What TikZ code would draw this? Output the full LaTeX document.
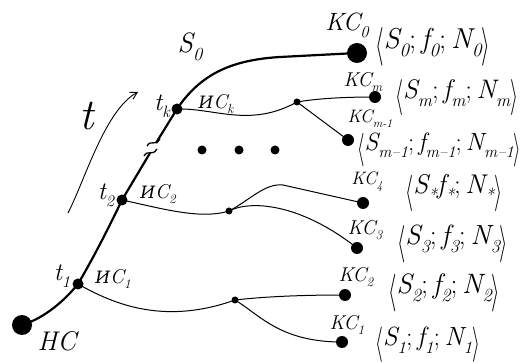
\documentclass[tikz,border=0pt]{standalone}
\usepackage{fontspec}
\usepackage{graphicx}
\newfontfamily\cyrfont{DejaVu Serif}
\usetikzlibrary{arrows.meta}
\tikzset{
  bigdot/.style={circle,fill=black,inner sep=0pt,minimum size=20pt},
  tdot/.style={circle,fill=black,inner sep=0pt,minimum size=11pt},
  jdot/.style={circle,fill=black,inner sep=0pt,minimum size=7pt},
  kdot/.style={circle,fill=black,inner sep=0pt,minimum size=12pt},
  mainline/.style={line width=2.2pt},
  brline/.style={line width=1pt},
  lbl/.style={inner sep=0pt,font=\fontsize{20}{22}\selectfont\itshape},
  klbl/.style={inner sep=0pt,font=\fontsize{20}{22}\selectfont\itshape},
  tup/.style={inner sep=0pt,anchor=west,font=\fontsize{26}{28}\selectfont},
}
\newcommand{\sub}[1]{\raisebox{-0.28em}{\scalebox{0.66}{#1}}}
\newcommand{\lbr}{\raisebox{-0.3em}{\scalebox{0.8}[1.4]{$\langle$}}}
\newcommand{\rbr}{\raisebox{-0.3em}{\scalebox{0.8}[1.4]{$\rangle$}}}
\newcommand{\tpl}[4]{\resizebox{#4pt}{!}{\lbr\itshape S\sub{#1}\upshape;\itshape\,f\sub{#2}\upshape;\itshape\,N\sub{#3}\rbr}}
\newcommand{\Ic}{{\cyrfont\itshape\fontsize{17}{19}\selectfont И}C}
\begin{document}
\begin{tikzpicture}[x=1pt,y=-1pt]
\useasboundingbox (0,0) rectangle (525,363);
% nodes
\node[bigdot] (nc) at (22,325) {};
\node[tdot] (t1) at (78,284) {};
\node[tdot] (t2) at (122,200) {};
\node[tdot] (tk) at (177,109) {};
\node[bigdot] (kc0) at (357,53) {};
\coordinate (b1) at (150,153);
\coordinate (b2) at (156,143);
\node[jdot] (jk) at (297,102) {};
\node[jdot] (j2) at (229,211) {};
\node[jdot] (j1) at (235,300) {};
\node[kdot] (kcm) at (375,97) {};
\node[kdot] (kcm1) at (348,140) {};
\node[kdot] (kc4) at (363,203) {};
\node[kdot] (kc3) at (357,248) {};
\node[kdot] (kc2) at (345,295) {};
\node[kdot] (kc1) at (342,342) {};
\node[jdot,minimum size=9pt] (d1) at (202,150) {};
\node[jdot,minimum size=9pt] (d2) at (239,150) {};
\node[jdot,minimum size=9pt] (d3) at (275,150) {};
% main trajectory
\draw[mainline] (nc.center) .. controls (45,318) and (65,300) .. (t1.center)
  .. controls (95,255) and (110,225) .. (t2.center) -- (b1);
\draw[mainline] (b2) -- (tk.center) .. controls (200,75) and (230,60) .. (280,57) -- (kc0.center);
\draw[line width=1.3pt] (144,156) .. controls (148,149) and (152,157) .. (157,149);
\draw[line width=1.3pt] (147,146) .. controls (151,139) and (155,147) .. (160,139);
% branches
\draw[brline] (tk.center) .. controls (215,108) and (250,128) .. (jk.center);
\draw[brline] (jk.center) .. controls (320,98) and (350,97) .. (kcm.center);
\draw[brline] (jk.center) -- (kcm1.center);
\draw[brline] (t2.center) .. controls (160,208) and (200,220) .. (j2.center);
\draw[brline] (j2.center) .. controls (250,200) and (265,183) .. (283,185) -- (kc4.center);
\draw[brline] (j2.center) .. controls (250,200) and (300,203) .. (kc3.center);
\draw[brline] (t1.center) .. controls (115,305) and (165,325) .. (j1.center);
\draw[brline] (j1.center) .. controls (270,296) and (310,295) .. (kc2.center);
\draw[brline] (j1.center) .. controls (260,315) and (280,342) .. (kc1.center);
% time arrow
\coordinate (ta) at (68,213);
\coordinate (tb) at (138,92);
\draw[line width=0.9pt,-{Straight Barb[length=7pt,width=8pt]}] (ta) .. controls (85,180) and (105,110) .. (tb);
% labels
\node[inner sep=0pt,font=\fontsize{44}{46}\selectfont\itshape] (tl) at (87,116) {t};
\node[lbl,font=\fontsize{28}{30}\selectfont\itshape] (s0) at (190,47) {S\sub{0}};
\node[lbl,font=\fontsize{25}{27}\selectfont\itshape] (tkl) at (162,106) {t\sub{k}};
\node[lbl,font=\fontsize{25}{27}\selectfont\itshape] (t2l) at (106,195) {t\sub{2}};
\node[lbl,font=\fontsize{25}{27}\selectfont\itshape] (t1l) at (62,276) {t\sub{1}};
\node[lbl] (ick) at (216,104) {\Ic\sub{k}};
\node[lbl] (ic2) at (158,194) {\Ic\sub{2}};
\node[lbl] (ic1) at (113,279) {\Ic\sub{1}};
\node[lbl,font=\fontsize{27}{29}\selectfont\itshape] (ncl) at (57,341) {HC};
\node[klbl,font=\fontsize{25}{27}\selectfont\itshape] (kc0l) at (347,25) {KC\sub{0}};
\node[klbl] (kcml) at (363,82) {KC\sub{m}};
\node[klbl,font=\fontsize{18}{20}\selectfont\itshape] (kcm1l) at (370,119) {KC\sub{m-1}};
\node[klbl,font=\fontsize{18}{20}\selectfont\itshape] (kc4l) at (367,182) {KC\sub{4}};
\node[klbl] (kc3l) at (365,230) {KC\sub{3}};
\node[klbl] (kc2l) at (356,277) {KC\sub{2}};
\node[klbl] (kc1l) at (347,325) {KC\sub{1}};
% tuples
\node[tup] (p0) at (375,47) {\tpl{0}{0}{0}{115}};
\node[tup] (pm) at (395,98) {\tpl{m}{m}{m}{123}};
\node[tup] (pm1) at (357,150) {\tpl{m–1}{m–1}{m–1}{164}};
\node[tup] (ps) at (405,193) {\resizebox{97pt}{!}{\lbr\itshape S\sub{*}f\sub{*}\upshape;\itshape\,N\sub{*}\rbr}};
\node[tup] (p3) at (397,244) {\tpl{3}{3}{3}{111}};
\node[tup] (p2) at (388,293) {\tpl{2}{2}{2}{112}};
\node[tup] (p1) at (375,345) {\tpl{1}{1}{1}{105}};
\end{tikzpicture}
\end{document}
